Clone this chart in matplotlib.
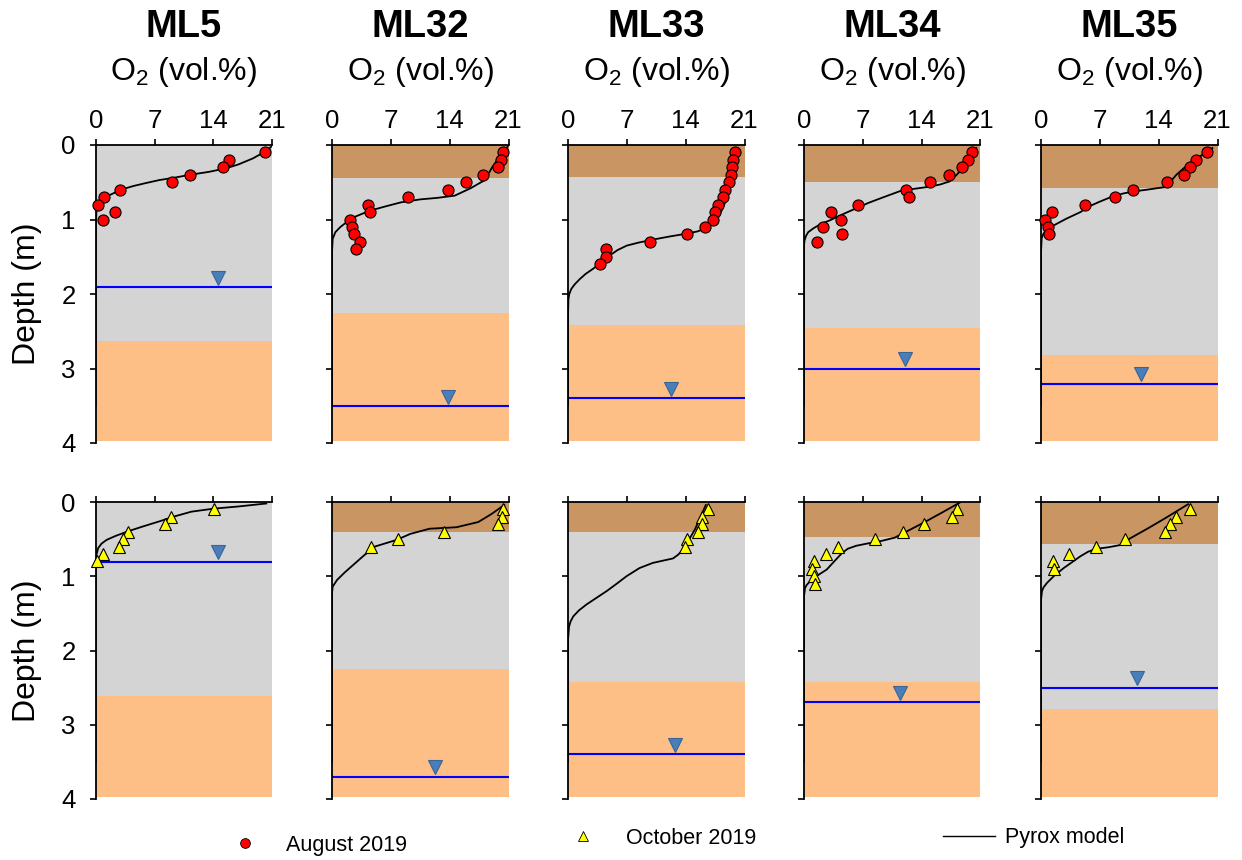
import numpy as np
import matplotlib
matplotlib.use("Agg")
import matplotlib.pyplot as plt
from matplotlib.lines import Line2D

plt.rcParams["font.family"] = "Liberation Sans"
plt.rcParams["mathtext.fontset"] = "custom"
plt.rcParams["mathtext.rm"] = "Liberation Sans"

SITES = ["ML5", "ML32", "ML33", "ML34", "ML35"]

# soil layers: bottom of topsoil / bottom of grey layer (m), per site
brown_aug = [0.0, 0.44, 0.435, 0.49, 0.58]
gray_aug = [2.63, 2.26, 2.42, 2.45, 2.82]
brown_oct = [0.0, 0.41, 0.41, 0.47, 0.57]
gray_oct = [2.61, 2.25, 2.43, 2.42, 2.79]
layer_end = 3.97

# water table depth (m) and x position of the marker
wt_aug = [1.91, 3.51, 3.40, 3.00, 3.21]
wt_aug_x = [14.5, 13.8, 12.3, 12.0, 11.9]
wt_oct = [0.81, 3.70, 3.40, 2.70, 2.50]
wt_oct_x = [14.6, 12.3, 12.7, 11.4, 11.4]

# measured O2 (vol.%), sampled every 0.1 m from 0.1 m down
o2_aug = [
    [20.1, 15.9, 15.2, 11.2, 9.1, 2.9, 1.0, 0.3, 2.3, 0.9],
    [20.4, 20.1, 19.8, 18.0, 15.9, 13.8, 9.1, 4.3, 4.5, 2.1, 2.4, 2.6, 3.3, 2.8],
    [19.9, 19.6, 19.5, 19.4, 19.2, 18.7, 18.5, 17.9, 17.5, 17.2, 16.3, 14.1,
     9.8, 4.5, 4.5, 3.8],
    [20.0, 19.5, 18.8, 17.2, 15.0, 12.1, 12.5, 6.4, 3.2, 4.4, 2.3, 4.5, 1.5],
    [19.7, 18.5, 17.7, 17.0, 15.0, 11.0, 8.8, 5.2, 1.3, 0.5, 0.8, 1.0],
]
o2_oct = [
    [14.1, 8.9, 8.2, 3.8, 3.2, 2.8, 0.9, 0.2],
    [20.4, 20.2, 19.7, 13.3, 7.8, 4.6],
    [16.6, 16.0, 15.9, 15.5, 14.1, 13.9],
    [18.2, 17.6, 14.3, 11.8, 8.5, 4.0, 2.6, 1.2, 1.0, 1.2, 1.3],
    [17.7, 16.1, 15.3, 14.7, 10.0, 6.6, 3.3, 1.4, 1.5],
]

# Pyrox model profiles (O2, depth)
model_aug_o2 = [
    [20.9, 20.3, 18.7, 17.0, 15.6, 13.5, 11.2, 9.3, 7.6, 6.0, 4.5, 3.0, 1.7,
     1.0, 0.5, 0.2, 0.08, 0.0, 0.0],
    [20.9, 20.0, 19.1, 18.2, 16.5, 14.6, 12.5, 10.5, 8.2, 6.5, 5.2, 4.1, 2.8,
     1.8, 1.0, 0.4, 0.08, 0.0, 0.0],
    [20.0, 19.8, 19.6, 19.3, 19.0, 18.5, 17.8, 17.1, 16.4, 15.4, 14.1, 12.0,
     10.1, 8.4, 7.0, 5.9, 5.0, 4.0, 3.0, 2.1, 1.4, 0.8, 0.4, 0.15, 0.05, 0.0,
     0.0],
    [20.5, 19.5, 18.5, 17.9, 17.3, 16.2, 14.9, 13.0, 11.4, 10.2, 9.0, 7.6, 6.2,
     4.6, 3.1, 2.0, 1.1, 0.5, 0.24, 0.06, 0.0, 0.0],
    [20.4, 19.2, 18.1, 17.0, 16.1, 15.5, 15.1, 13.8, 12.6, 11.2, 9.8, 8.3, 7.0,
     5.8, 4.7, 3.0, 1.5, 0.7, 0.3, 0.08, 0.0, 0.0],
]
model_aug_depth = [
    [0.02, 0.08, 0.18, 0.26, 0.31, 0.36, 0.40, 0.44, 0.47, 0.51, 0.55, 0.60,
     0.67, 0.71, 0.76, 0.82, 0.90, 1.20, 3.50],
    [0.02, 0.15, 0.29, 0.47, 0.58, 0.68, 0.71, 0.73, 0.77, 0.82, 0.86, 0.90,
     0.96, 1.03, 1.10, 1.17, 1.26, 1.44, 3.50],
    [0.04, 0.20, 0.36, 0.52, 0.67, 0.83, 0.99, 1.07, 1.12, 1.16, 1.19, 1.23,
     1.27, 1.31, 1.35, 1.41, 1.48, 1.57, 1.66, 1.73, 1.80, 1.87, 1.93, 2.00,
     2.07, 2.29, 3.50],
    [0.04, 0.20, 0.36, 0.43, 0.49, 0.53, 0.56, 0.59, 0.62, 0.67, 0.72, 0.78,
     0.85, 0.93, 1.01, 1.06, 1.12, 1.17, 1.22, 1.28, 1.35, 3.50],
    [0.04, 0.13, 0.22, 0.31, 0.40, 0.48, 0.56, 0.58, 0.60, 0.62, 0.65, 0.70,
     0.76, 0.82, 0.90, 0.99, 1.08, 1.14, 1.19, 1.25, 1.44, 3.50],
]
model_oct_o2 = [
    [20.3, 17.0, 14.0, 11.4, 9.5, 7.6, 5.6, 3.7, 2.3, 1.3, 0.7, 0.3, 0.04, 0.0,
     0.0],
    [20.5, 19.0, 17.4, 14.8, 11.6, 9.3, 7.7, 5.1, 3.8, 2.6, 1.5, 0.6, 0.08,
     0.0, 0.0],
    [16.4, 15.1, 13.7, 13.1, 12.5, 11.3, 10.1, 8.5, 6.96, 5.8, 4.6, 3.4, 2.2,
     1.3, 0.63, 0.3, 0.12, 0.0, 0.0],
    [18.5, 16.3, 14.2, 12.5, 10.8, 9.0, 7.5, 6.2, 5.2, 4.5, 3.6, 2.7, 1.6, 0.7,
     0.3, 0.12, 0.0, 0.0],
    [17.5, 16.2, 14.9, 12.8, 10.6, 9.4, 8.0, 6.6, 5.6, 4.7, 3.7, 2.7, 1.6,
     0.71, 0.3, 0.12, 0.0, 0.0],
]
model_oct_depth = [
    [0.02, 0.06, 0.09, 0.13, 0.19, 0.26, 0.33, 0.40, 0.46, 0.51, 0.56, 0.62,
     0.73, 0.85, 3.50],
    [0.04, 0.16, 0.27, 0.34, 0.36, 0.43, 0.51, 0.60, 0.72, 0.84, 0.95, 1.05,
     1.14, 1.23, 3.50],
    [0.04, 0.37, 0.64, 0.71, 0.76, 0.79, 0.82, 0.89, 1.00, 1.10, 1.20, 1.29,
     1.38, 1.46, 1.54, 1.61, 1.68, 1.86, 3.50],
    [0.01, 0.15, 0.28, 0.38, 0.48, 0.53, 0.56, 0.59, 0.63, 0.69, 0.80, 0.91,
     0.99, 1.07, 1.12, 1.16, 1.27, 3.50],
    [0.03, 0.12, 0.21, 0.35, 0.49, 0.58, 0.61, 0.63, 0.67, 0.73, 0.81, 0.89,
     0.99, 1.09, 1.15, 1.20, 1.32, 3.50],
]

BROWN = "#C99563"
GRAY = "#D4D4D4"
ORANGE = "#FDBF86"


def draw_panel(ax, brown, gray, wt, wt_x, o2, mod_o2, mod_depth, marker, face,
               size):
    if brown > 0:
        ax.axhspan(0, brown, color=BROWN, lw=0, zorder=0)
    ax.axhspan(brown, gray, color=GRAY, lw=0, zorder=0)
    ax.axhspan(gray, layer_end, color=ORANGE, lw=0, zorder=0)
    ax.axhline(wt, color="#0000FF", lw=1.5, zorder=1)
    ax.plot([wt_x], [wt - 0.13], marker="v", ms=10, color="#4A7EBB",
            mec="#3A6494", mew=0.8, ls="none", zorder=2)
    ax.plot(mod_o2, mod_depth, color="black", lw=1.3, zorder=3)
    depth = 0.1 * np.arange(1, len(o2) + 1)
    ax.plot(o2, depth, marker=marker, ms=size, mfc=face, mec="black",
            mew=0.8, ls="none", zorder=4, clip_on=False)

    ax.set_xlim(0, 21)
    ax.set_ylim(4, 0)
    ax.set_xticks([0, 7, 14, 21])
    ax.set_yticks([0, 1, 2, 3, 4])
    ax.spines["right"].set_visible(False)
    ax.spines["bottom"].set_visible(False)
    ax.spines["left"].set_linewidth(1.3)
    ax.spines["top"].set_linewidth(1.3)
    ax.xaxis.set_ticks_position("top")
    ax.tick_params(axis="x", direction="out", length=4, width=1.2, pad=5,
                   labelsize=18.5)
    ax.tick_params(axis="y", direction="out", length=4.5, width=1.2, pad=10,
                   labelsize=18.5)


W, H = 1242, 860
fig = plt.figure(figsize=(W / 100, H / 100), dpi=100)

lefts = [95.7, 332, 568, 804, 1041]
panel_w = 176.5

for i, site in enumerate(SITES):
    ax = fig.add_axes([lefts[i] / W, 1 - 443 / H, panel_w / W, 298 / H])
    draw_panel(ax, brown_aug[i], gray_aug[i], wt_aug[i], wt_aug_x[i],
               o2_aug[i], model_aug_o2[i], model_aug_depth[i], "o", "#FF0000", 8)
    ax.text(0.5, 1.362, site, transform=ax.transAxes, ha="center",
            va="baseline", fontsize=27.5, fontweight="bold")
    ax.text(0.5, 1.218, r"O$_\mathregular{2}$ (vol.%)", transform=ax.transAxes,
            ha="center", va="baseline", fontsize=23)
    if i > 0:
        ax.set_yticklabels([])

    bx = fig.add_axes([lefts[i] / W, 1 - 799 / H, panel_w / W, 297 / H])
    draw_panel(bx, brown_oct[i], gray_oct[i], wt_oct[i], wt_oct_x[i],
               o2_oct[i], model_oct_o2[i], model_oct_depth[i], "^", "#FFFF00", 8.5)
    bx.set_xticklabels([])
    if i > 0:
        bx.set_yticklabels([])

for y_mid in [(145 + 443) / 2, (502 + 799) / 2]:
    fig.text(27 / W, 1 - y_mid / H, "Depth (m)", rotation=90, ha="center",
             va="center", fontsize=23)

# legend entries spread along the bottom
h_aug = Line2D([], [], marker="o", ms=7, mfc="#FF0000", mec="black", mew=0.6,
               ls="none")
h_oct = Line2D([], [], marker="^", ms=6.5, mfc="#FFFF00", mec="black", mew=0.6,
               ls="none")
h_mod = Line2D([], [], color="black", lw=1.0)
entries = [
    (h_aug, "August 2019", 234.6, 845, 1.0, 1.4),
    (h_oct, "October 2019", 572.6, 838, 1.0, 1.5),
    (h_mod, "Pyrox model", 943, 838, 2.4, 0.48),
]
for handle, label, x, y, hl, pad in entries:
    fig.legend(handles=[handle], labels=[label], loc="center left",
               bbox_to_anchor=(x / W, 1 - y / H), frameon=False, fontsize=15.5,
               borderpad=0, borderaxespad=0, handlelength=hl,
               handletextpad=pad)

fig.savefig("out.png", dpi=100)
